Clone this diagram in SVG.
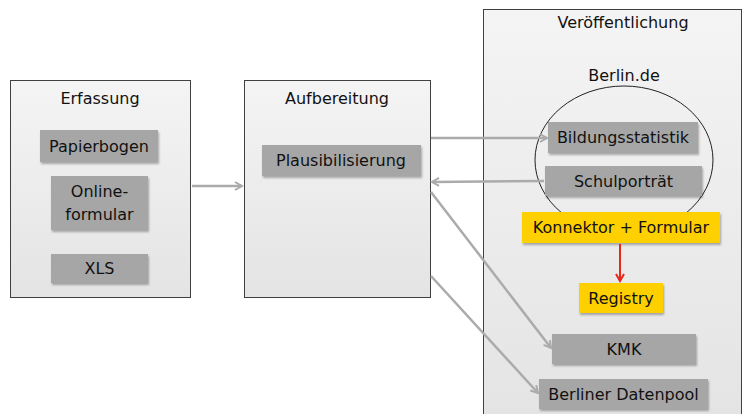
<svg xmlns="http://www.w3.org/2000/svg" width="752" height="414" viewBox="0 0 752 414">
<style>
.cont{stroke:#404040;stroke-width:1;}
.box{fill:#a6a6a6;filter:url(#sh);}
.yel{fill:#ffd000;filter:url(#sh);}
text{font-family:"DejaVu Sans","Liberation Sans",sans-serif;font-size:16px;fill:#111;text-anchor:middle;}
.conn line{stroke:#ababab;stroke-width:2.5;fill:none;marker-end:url(#ag);}
</style>
<defs>
<linearGradient id="g" x1="0" y1="0" x2="0" y2="1">
<stop offset="0" stop-color="#f4f4f4"/><stop offset="1" stop-color="#e4e4e4"/>
</linearGradient>
<filter id="sh" x="-10%" y="-20%" width="120%" height="150%">
<feDropShadow dx="1" dy="2" stdDeviation="1" flood-color="#000" flood-opacity="0.3"/>
</filter>
<marker id="ag" markerWidth="10" markerHeight="10" refX="8" refY="5" orient="auto" markerUnits="userSpaceOnUse">
<path d="M1,1 L8,5 L1,9" fill="none" stroke="#ababab" stroke-width="2"/>
</marker>
<marker id="ar" markerWidth="10" markerHeight="10" refX="8" refY="5" orient="auto" markerUnits="userSpaceOnUse">
<path d="M1,1 L8,5 L1,9" fill="none" stroke="#e8281a" stroke-width="2"/>
</marker>
</defs>
<rect width="752" height="414" fill="#fff"/>
<g id="erfassung">
<rect class="cont" x="10.5" y="80.5" width="180" height="217" fill="url(#g)"/>
<text x="100" y="104">Erfassung</text>
</g>
<g id="papierbogen"><rect class="box" x="40" y="130" width="118" height="32"/><text x="99" y="152">Papierbogen</text></g>
<g id="onlineformular"><rect class="box" x="51" y="176" width="97" height="54"/><text x="99.5" y="197">Online-</text><text x="99.5" y="220">formular</text></g>
<g id="xls"><rect class="box" x="51" y="254" width="97" height="29"/><text x="99.5" y="274">XLS</text></g>
<g id="aufbereitung">
<rect class="cont" x="244.5" y="80.5" width="186" height="217" fill="url(#g)"/>
<text x="337" y="104">Aufbereitung</text>
</g>
<g id="plausibilisierung"><rect class="box" x="262" y="145" width="159" height="31"/><text x="341" y="166">Plausibilisierung</text></g>
<g id="veroeffentlichung">
<rect class="cont" x="483.5" y="9.5" width="258" height="410" fill="url(#g)"/>
<text x="623" y="28">Veröffentlichung</text>
<text x="624" y="81">Berlin.de</text>
<ellipse cx="624" cy="160" rx="89" ry="74" fill="none" stroke="#222" stroke-width="1"/>
</g>
<g id="bildungsstatistik"><rect class="box" x="548" y="122" width="150" height="31"/><text x="623" y="143">Bildungsstatistik</text></g>
<g id="schulportraet"><rect class="box" x="545" y="166" width="157" height="30"/><text x="623.5" y="187">Schulporträt</text></g>
<g id="konnektor"><rect class="yel" x="522" y="212" width="198" height="31"/><text x="621" y="233">Konnektor + Formular</text></g>
<g id="registry"><rect class="yel" x="579" y="283" width="84" height="30"/><text x="621" y="304">Registry</text></g>
<g id="kmk"><rect class="box" x="552" y="334" width="144" height="30"/><text x="624" y="355">KMK</text></g>
<g id="datenpool"><rect class="box" x="539" y="379" width="169" height="30"/><text x="623.5" y="400">Berliner Datenpool</text></g>
<g class="conn" id="connectors">
<line x1="192" y1="186" x2="242" y2="186"/>
<line x1="431" y1="138" x2="547" y2="138"/>
<line x1="544" y1="181" x2="432" y2="182"/>
<line x1="431" y1="192" x2="551" y2="348"/>
<line x1="431" y1="276" x2="538" y2="393"/>
<line x1="620" y1="244" x2="620" y2="281" style="stroke:#e8281a;stroke-width:2;marker-end:url(#ar)"/>
</g>
</svg>
